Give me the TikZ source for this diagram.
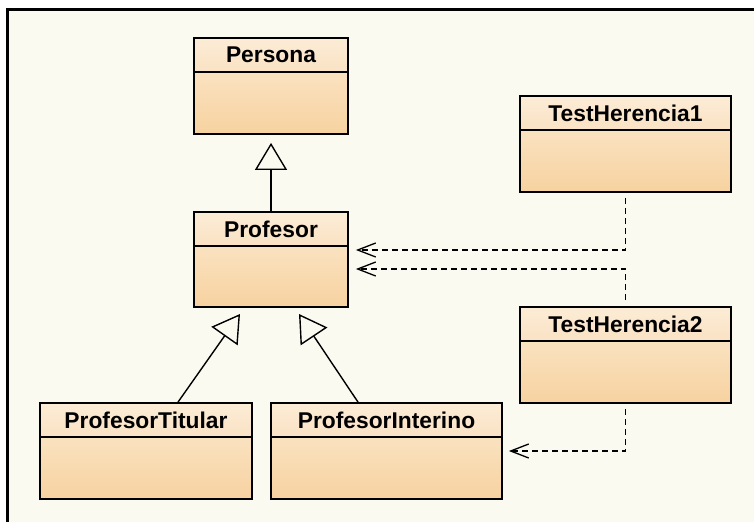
\documentclass[tikz,border=0pt]{standalone}
\usepackage{fontspec}
\setmainfont{Liberation Sans}
\usetikzlibrary{arrows.meta,calc}
\definecolor{bgcream}{RGB}{251,250,241}
\definecolor{hdrtop}{RGB}{252,236,214}
\definecolor{hdrbot}{RGB}{250,226,196}
\definecolor{bodytop}{RGB}{250,226,192}
\definecolor{bodybot}{RGB}{247,210,160}
\tikzset{
  classbox/.style={draw=black, line width=1.8pt, inner sep=0pt, rectangle},
  classtitle/.style={font=\bfseries\fontsize{22.8}{26}\selectfont, inner sep=0pt, text=black},
  inh/.style={draw=black, line width=1.4pt, -{Triangle[open, length=27pt, width=32pt, line width=1.4pt]}},
  dep/.style={draw=black, line width=1.3pt, dash pattern=on 6pt off 4pt, -{Straight Barb[length=18pt, width=14pt, line width=1.3pt]}},
}
\newcommand{\umlclass}[6]{% name, cx, cy, w, h, title
  \node[classbox, minimum width=#4pt, minimum height=#5pt] (#1) at (#2,#3) {};
  \fill[bottom color=bodybot, top color=bodytop] ([shift={(0.9pt,-35pt)}]#1.north west) rectangle ([shift={(-0.9pt,0.9pt)}]#1.south east);
  \fill[bottom color=hdrbot, top color=hdrtop] ([shift={(0.9pt,-0.9pt)}]#1.north west) rectangle ([shift={(-0.9pt,-35pt)}]#1.north east);
  \draw[line width=1.8pt] ([yshift=-35pt]#1.north west) -- ([yshift=-35pt]#1.north east);
  \node[classbox, minimum width=#4pt, minimum height=#5pt] at (#2,#3) {};
  \node[classtitle] at ([yshift=-18pt]#1.north) {#6};
}
\begin{document}
\begin{tikzpicture}[x=1pt, y=-1pt]
\useasboundingbox (0,0) rectangle (754,522);
\fill[white] (0,0) rectangle (754,522);
\fill[bgcream] (7.5,9.5) rectangle (754,522);
\draw[line width=2.6pt, black] (7.5,522) -- (7.5,9.5) -- (754,9.5);

\umlclass{persona}{271}{86}{154}{96}{Persona}
\umlclass{profesor}{271}{259.5}{154}{95}{Profesor}
\umlclass{th1}{625.5}{144}{211}{96}{TestHerencia1}
\umlclass{th2}{625.5}{355}{211}{96}{TestHerencia2}
\umlclass{ptit}{146}{451}{212}{96}{ProfesorTitular}
\umlclass{pint}{386.5}{451}{231}{96}{ProfesorInterino}

\coordinate (a1) at (240,314);
\coordinate (a2) at (299,314);

\draw[inh] (profesor.north) -- ([yshift=-8pt]persona.south);
\draw[inh] ([xshift=32pt]ptit.north) -- (a1);
\draw[inh] ([xshift=-28.5pt]pint.north) -- (a2);

\draw[dep] ([yshift=-5pt]th1.south) |- ([xshift=7pt, yshift=9.5pt]profesor.east);
\draw[dep] ([yshift=6pt]th2.north) |- ([xshift=7pt, yshift=-9.5pt]profesor.east);
\draw[dep] ([yshift=-5pt]th2.south) |- ([xshift=6pt]pint.east);
\end{tikzpicture}
\end{document}
